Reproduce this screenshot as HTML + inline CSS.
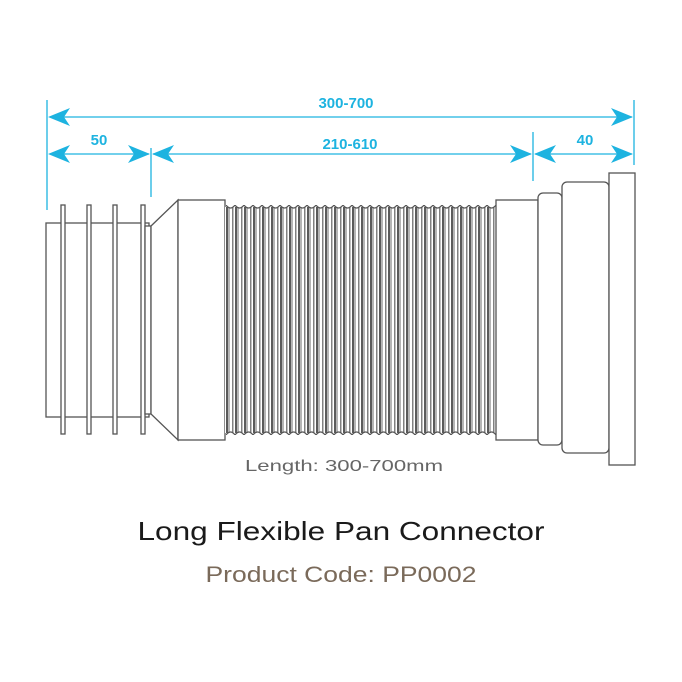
<!DOCTYPE html>
<html><head><style>html,body{margin:0;padding:0;background:#fff}svg{display:block}</style></head>
<body>
<svg width="682" height="682" viewBox="0 0 682 682" xmlns="http://www.w3.org/2000/svg">
<defs>
<pattern id="rib" x="226" y="0" width="9" height="682" patternUnits="userSpaceOnUse">
<rect width="9" height="682" fill="#fff"/>
<rect x="0" width="2" height="682" fill="#5a5a5a"/>
<rect x="2" width="2" height="682" fill="#b5b5b5"/>
<rect x="6" width="1.5" height="682" fill="#808080"/>
</pattern>
<pattern id="scal" x="226" y="0" width="9" height="682" patternUnits="userSpaceOnUse">
<path d="M0 0 Q4.5 6 9 0" fill="none" stroke="#555" stroke-width="1.2"/>
</pattern>
</defs>
<g fill="none" stroke="#1db3e0" stroke-width="1.3">
<line x1="47" y1="100" x2="47" y2="210"/>
<line x1="151" y1="148" x2="151" y2="197"/>
<line x1="533" y1="132" x2="533" y2="181"/>
<line x1="634" y1="100" x2="634" y2="165"/>
<line x1="50" y1="117" x2="632" y2="117"/>
<line x1="50" y1="154" x2="149" y2="154"/>
<line x1="153" y1="154" x2="531" y2="154"/>
<line x1="535" y1="154" x2="632" y2="154"/>
</g>
<g fill="#1db3e0">
<path d="M48 117 L70 108 L64 117 L70 126 Z"/>
<path d="M633 117 L611 108 L617 117 L611 126 Z"/>
<path d="M48 154 L70 145 L64 154 L70 163 Z"/>
<path d="M150 154 L128 145 L134 154 L128 163 Z"/>
<path d="M152 154 L174 145 L168 154 L174 163 Z"/>
<path d="M532 154 L510 145 L516 154 L510 163 Z"/>
<path d="M534 154 L556 145 L550 154 L556 163 Z"/>
<path d="M633 154 L611 145 L617 154 L611 163 Z"/>
</g>
<g fill="#1db3e0" font-family="Liberation Sans, sans-serif" font-weight="bold" font-size="15" text-anchor="middle">
<text x="346" y="108">300-700</text>
<text x="99" y="145">50</text>
<text x="350" y="149">210-610</text>
<text x="585" y="145">40</text>
</g>
<g fill="#fff" stroke="#555" stroke-width="1.3">
<rect x="46" y="223" width="103" height="194"/>
<rect x="61" y="205" width="4" height="229"/>
<rect x="87" y="205" width="4" height="229"/>
<rect x="113" y="205" width="4" height="229"/>
<rect x="141" y="205" width="4" height="229"/>
<rect x="145" y="226" width="6" height="188"/>
<path d="M151 226 L178 200 L178 440 L151 414 Z"/>
<rect x="178" y="200" width="47" height="240"/>
</g>
<rect x="225" y="207" width="271" height="226" fill="url(#rib)"/>
<g transform="translate(0,205)"><rect x="226" y="0" width="270" height="6" fill="url(#scal)"/></g>
<g transform="translate(0,435) scale(1,-1)"><rect x="226" y="0" width="270" height="6" fill="url(#scal)"/></g>
<g fill="#fff" stroke="#555" stroke-width="1.3">
<rect x="496" y="200" width="42" height="240"/>
<rect x="538" y="193" width="24" height="252" rx="5"/>
<rect x="562" y="182" width="47" height="271" rx="5"/>
<rect x="609" y="173" width="26" height="292"/>
</g>
<g font-family="Liberation Sans, sans-serif" text-anchor="middle">
<text x="344" y="471" font-size="16" fill="#666" textLength="198" lengthAdjust="spacingAndGlyphs">Length: 300-700mm</text>
<text x="341" y="540" font-size="26" fill="#1a1a1a" textLength="407" lengthAdjust="spacingAndGlyphs">Long Flexible Pan Connector</text>
<text x="341" y="582" font-size="22" fill="#7a6a5a" textLength="271" lengthAdjust="spacingAndGlyphs">Product Code: PP0002</text>
</g>
</svg>
</body></html>
